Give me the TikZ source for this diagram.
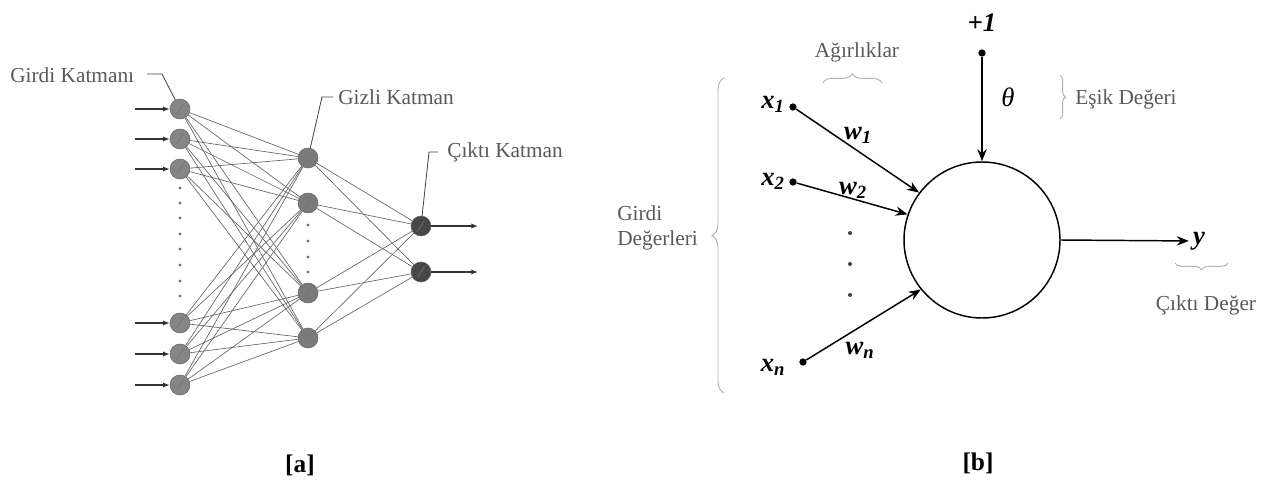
\documentclass[tikz,border=0pt]{standalone}
\usepackage{fontspec}
\setmainfont{Liberation Serif}
\usetikzlibrary{arrows.meta,decorations.pathreplacing}
\begin{document}
\begin{tikzpicture}[x=0.75pt,y=-0.75pt,
  neuron/.style={circle,draw=black!60,line width=0.4pt,minimum size=15pt,inner sep=0pt,
    path picture={\draw[black!55,line width=0.5pt] ([shift={(-2.5pt,-4pt)}]path picture bounding box.center) -- ++(5pt,8pt);}},
  inneuron/.style={neuron,fill=black!48},
  hidneuron/.style={neuron,fill=black!52},
  outneuron/.style={neuron,fill=black!72},
  conn/.style={black!60,line width=0.5pt},
  inarrow/.style={black!80,line width=1.1pt,-{Latex[length=5pt,width=4pt]}},
  leader/.style={black!75,line width=0.6pt},
  ndot/.style={circle,fill=black!55,inner sep=0pt,minimum size=2.6pt},
  glabel/.style={text=black!65,font=\fontsize{16}{19}\selectfont,inner sep=0pt},
  mlabel/.style={font=\fontsize{20}{22}\selectfont\bfseries\itshape,inner sep=0pt},
  pin/.style={circle,fill=black,inner sep=0pt,minimum size=5.5pt},
  sarrow/.style={black,line width=1.1pt,-{Stealth[length=9pt,width=7pt]}},
  gbrace/.style={black!30,line width=0.7pt,decorate,decoration={brace,amplitude=#1}},
  caption/.style={font=\fontsize{19}{21}\selectfont\bfseries,inner sep=0pt}
]
\useasboundingbox (0,0) rectangle (1268,485);

% ---------- [a] network ----------
\foreach \n/\y in {1/109,2/139,3/169,4/323,5/354,6/385}{
  \node[inneuron] (i\n) at (180,\y) {};
  \coordinate (s\n) at (135,\y);
}
\foreach \n/\y in {1/158,2/203,3/293,4/338}{
  \node[hidneuron] (h\n) at (308,\y) {};
}
\foreach \n/\y in {1/226,2/272}{
  \node[outneuron] (o\n) at (421,\y) {};
  \coordinate (e\n) at (478,\y);
}
\foreach \i in {1,...,6}{\foreach \h in {1,...,4}{\draw[conn] (i\i) -- (h\h);}}
\foreach \h in {1,...,4}{\foreach \o in {1,2}{\draw[conn] (h\h) -- (o\o);}}
\foreach \n in {1,...,6}{\draw[inarrow] (s\n) -- (i\n);}
\foreach \n in {1,2}{\draw[inarrow] (o\n) -- (e\n);}
\foreach \y [count=\k] in {188,203,218,234,249,265,281,296}{\node[ndot] (di\k) at (180,\y) {};}
\foreach \y [count=\k] in {225,241,257,272}{\node[ndot] (dh\k) at (308,\y) {};}

\node[glabel,anchor=west] (lin) at (10,75) {Girdi Katmanı};
\coordinate (lin1) at (147,74); \coordinate (lin2) at (162,74);
\draw[leader] (lin1) -- (lin2) -- (i1);
\node[glabel,anchor=west] (lhid) at (338,97) {Gizli Katman};
\coordinate (lh1) at (333,97); \coordinate (lh2) at (322,97);
\draw[leader] (lh1) -- (lh2) -- (h1);
\node[glabel,anchor=west] (lout) at (447,152) {Çıktı Katman};
\coordinate (lo1) at (438,152); \coordinate (lo2) at (429,152);
\draw[leader] (lo1) -- (lo2) -- (o1);

\node[caption] (capa) at (300,465) {[a]};

% ---------- [b] perceptron ----------
\node[circle,draw=black,line width=1.1pt,minimum size=117pt,inner sep=0pt] (n) at (982,240) {};
\node[pin] (p1) at (793,107) {};
\node[pin] (p2) at (793,182) {};
\node[pin] (pn) at (803,362) {};
\node[pin] (pb) at (982,53) {};
\node[mlabel] (x1) at (773,104) {x\textsubscript{1}};
\node[mlabel] (x2) at (773,181) {x\textsubscript{2}};
\node[mlabel] (xn) at (773,367) {x\textsubscript{n}};
\node[mlabel] (w1) at (858,135) {w\textsubscript{1}};
\node[mlabel] (w2) at (853,190) {w\textsubscript{2}};
\node[mlabel] (wn) at (860,350) {w\textsubscript{n}};
\node[mlabel] (plus) at (982,23) {+1};
\node[font=\fontsize{20}{22}\selectfont\itshape,inner sep=0pt] (th) at (1008,97) {θ};
\node[mlabel] (yl) at (1199,241) {y};
\draw[sarrow] (p1) -- (n.143);
\draw[sarrow] (p2) -- (n.161);
\draw[sarrow] (pn) -- (n.219);
\draw[sarrow] (pb) -- (n.north);
\draw[sarrow,shorten >=3pt] (n.east) -- (yl.west);
\foreach \y [count=\k] in {233,264,295}{\node[ndot,fill=black!75,minimum size=3pt] (dr\k) at (850,\y) {};}

\node[glabel] (lw) at (857,52) {Ağırlıklar};
\coordinate (bw1) at (823,83); \coordinate (bw2) at (882,83);
\draw[gbrace=7pt] (bw1) -- (bw2);
\node[glabel,anchor=west,align=left] (lgv) at (617,228) {Girdi\\Değerleri};
\coordinate (bg1) at (724,393); \coordinate (bg2) at (724,78);
\draw[gbrace=9pt] (bg1) -- (bg2);
\node[glabel,anchor=west] (lth) at (1075,99) {Eşik Değeri};
\coordinate (bt1) at (1060,75); \coordinate (bt2) at (1060,119);
\draw[gbrace=4pt] (bt1) -- (bt2);
\coordinate (by1) at (1228,263); \coordinate (by2) at (1175,263);
\draw[gbrace=5pt] (by1) -- (by2);
\node[glabel] (ly) at (1206,305) {Çıktı Değer};

\node[caption] (capb) at (978,463) {[b]};
\end{tikzpicture}
\end{document}
